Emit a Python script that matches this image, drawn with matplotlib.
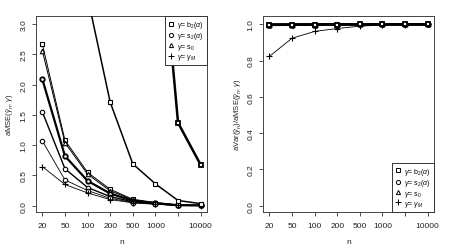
import numpy as np
import matplotlib
matplotlib.use("Agg")
import matplotlib.pyplot as plt
from matplotlib.lines import Line2D

plt.rcParams['font.family'] = ['Liberation Sans', 'DejaVu Sans']
plt.rcParams['mathtext.fontset'] = 'custom'
plt.rcParams['mathtext.rm'] = 'Liberation Sans'
plt.rcParams['mathtext.it'] = 'Liberation Sans:italic'

# ---- data ----
n_values = [20, 50, 100, 200, 500, 1000, 5000, 10000]
tick_labels = ["20", "50", "100", "200", "500", "1000", "", "10000"]

# left panel: aMSE
mse_b2_a = [2.67, 1.08, 0.55, 0.27, 0.105, 0.052, 0.011, 0.005]
mse_s0 = [2.56, 1.04, 0.52, 0.245, 0.095, 0.047, 0.010, 0.005]
mse_s2_a = [2.09, 0.82, 0.41, 0.20, 0.08, 0.04, 0.008, 0.004]
mse_s2_b = [1.55, 0.61, 0.30, 0.15, 0.062, 0.032, 0.006, 0.003]
mse_s2_c = [1.07, 0.425, 0.25, 0.12, 0.052, 0.026, 0.005, 0.0025]
mse_gm = [0.645, 0.35, 0.21, 0.10, 0.046, 0.022, 0.004, 0.002]
mse_b2_b = [None, None, 3.45, 1.71, 0.69, 0.36, 0.085, 0.033]
mse_b2_c = [None, None, None, None, None, 5.5, 1.37, 0.675]

# right panel: aVar / aMSE
ratio_b2 = [0.998, 0.999, 0.999, 0.999, 1.0, 1.0, 1.0, 1.0]
ratio_s2 = [0.997, 0.998, 0.999, 0.999, 1.0, 1.0, 1.0, 1.0]
ratio_s0 = [0.998, 0.999, 0.999, 1.0, 1.0, 1.0, 1.0, 1.0]
ratio_gm = [0.823, 0.923, 0.961, 0.977, 0.99, 0.996, 0.999, 1.0]

legend_labels = [r'$\gamma$= b$_2$($\alpha$)', r'$\gamma$= s$_2$($\alpha$)',
                 r'$\gamma$= s$_0$', r'$\gamma$= $\gamma_M$']
markers = ['s', 'o', '^', '+']

# ---- figure ----
fig = plt.figure(figsize=(4.53, 2.51), dpi=100)
axL = fig.add_axes([36/453, 38/251, 171/453, 196/251])
axR = fig.add_axes([263/453, 38/251, 171/453, 196/251])

pos = np.arange(1, len(n_values) + 1)


def arr(v):
    return np.array([np.nan if x is None else x for x in v], dtype=float)


def draw(ax, vals, marker, lw, ms=3.2, mew=0.8):
    mfc = 'white' if marker != '+' else 'black'
    ax.plot(pos, arr(vals), color='black', lw=lw, marker=marker, ms=ms if marker != '+' else ms + 1.2,
            mfc=mfc, mec='black', mew=mew if lw < 1.5 else 1.3, zorder=3)


draw(axL, mse_b2_a, 's', 0.7)
draw(axL, mse_s0, '^', 0.7)
draw(axL, mse_s2_a, 'o', 1.6)
draw(axL, mse_s2_b, 'o', 1.0)
draw(axL, mse_s2_c, 'o', 0.6)
draw(axL, mse_gm, '+', 0.6)
draw(axL, mse_b2_b, 's', 1.1)
draw(axL, mse_b2_c, 's', 1.8)

draw(axR, ratio_gm, '+', 0.6)
draw(axR, ratio_s0, '^', 1.8)
draw(axR, ratio_s2, 'o', 1.8)
draw(axR, ratio_b2, 's', 1.8)

axL.set_ylim(-0.105, 3.135)
axR.set_ylim(-0.035, 1.046)
axL.set_yticks([0.0, 0.5, 1.0, 1.5, 2.0, 2.5, 3.0])
axR.set_yticks([0.0, 0.2, 0.4, 0.6, 0.8, 1.0])

for ax in (axL, axR):
    ax.set_xlim(0.72, 8.28)
    ax.set_xticks(pos)
    ax.set_xticklabels(tick_labels)
    ax.set_yticklabels([f"{t:.1f}" for t in ax.get_yticks()], rotation=90, va='center')
    ax.tick_params(axis='both', labelsize=6, length=3, width=0.6, colors='#333333',
                   labelcolor='#222222')
    ax.tick_params(axis='x', pad=4.5)
    ax.tick_params(axis='y', pad=3)
    for s in ax.spines.values():
        s.set_linewidth(0.7)
        s.set_color('#444444')
    ax.set_xlabel('n', fontsize=6, labelpad=6, color='#222222')

axL.set_ylabel(r'aMSE($\hat{\gamma}_n$, $\gamma$)', fontsize=5.5, labelpad=3, color='#222222')
axR.set_ylabel(r'aVar($\hat{\gamma}_n$)/aMSE($\hat{\gamma}_n$, $\gamma$)', fontsize=5.5,
               labelpad=3, color='#222222')

handles = [Line2D([], [], ls='none', marker=m, ms=3 if m != '+' else 4.2, mfc='white',
                  mec='black', mew=0.7) for m in markers]
for ax, loc in ((axL, 'upper right'), (axR, 'lower right')):
    leg = ax.legend(handles, legend_labels, loc=loc, fontsize=5, frameon=True, fancybox=False,
                    borderaxespad=0, handlelength=0.8, handletextpad=0.5, labelspacing=0.05,
                    borderpad=0.45)
    leg.get_frame().set_edgecolor('#333333')
    leg.get_frame().set_linewidth(0.7)
    leg.get_frame().set_alpha(1)
    leg.set_zorder(5)

fig.savefig('out.png', dpi=100)
